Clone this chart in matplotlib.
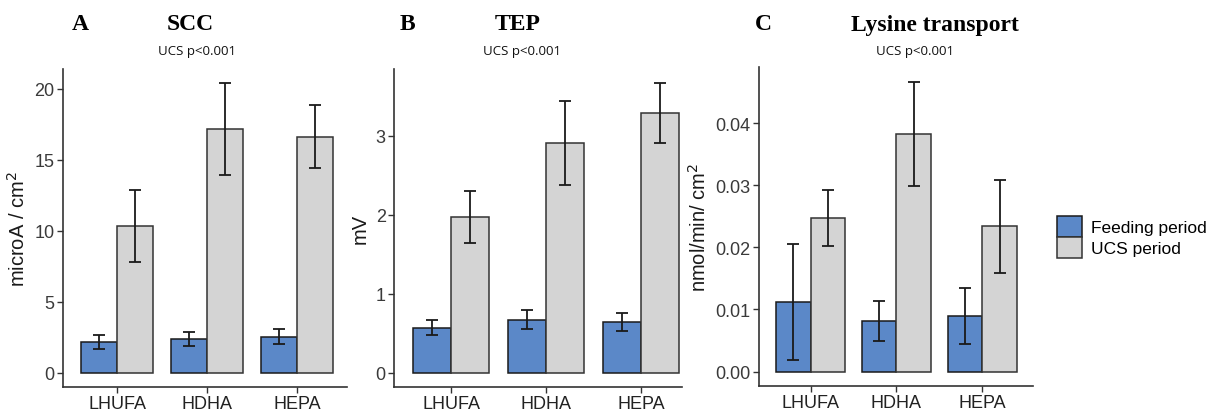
import matplotlib
matplotlib.use("Agg")
import matplotlib.pyplot as plt
import numpy as np

plt.rcParams["font.family"] = ["Liberation Sans", "DejaVu Sans"]

categories = ["LHUFA", "HDHA", "HEPA"]
series_names = ["Feeding period", "UCS period"]

scc_feed = [2.15, 2.36, 2.52]
scc_feed_err = [0.50, 0.50, 0.53]
scc_ucs = [10.33, 17.15, 16.63]
scc_ucs_err = [2.52, 3.22, 2.25]

tep_feed = [0.567, 0.671, 0.642]
tep_feed_err = [0.095, 0.12, 0.11]
tep_ucs = [1.973, 2.905, 3.28]
tep_ucs_err = [0.33, 0.53, 0.38]

lys_feed = [0.0112, 0.0081, 0.0089]
lys_feed_err = [0.0094, 0.0032, 0.0045]
lys_ucs = [0.0247, 0.0383, 0.0234]
lys_ucs_err = [0.0045, 0.0084, 0.0075]

panel_letters = ["A", "B", "C"]
panel_titles = ["SCC", "TEP", "Lysine transport"]
subtitle = "UCS p<0.001"
ylabels = ["microA / cm$^2$", "mV", "nmol/min/ cm$^2$"]
yticks = [[0, 5, 10, 15, 20], [0, 1, 2, 3], [0.00, 0.01, 0.02, 0.03, 0.04]]
ytick_labels = [["0", "5", "10", "15", "20"], ["0", "1", "2", "3"],
                ["0.00", "0.01", "0.02", "0.03", "0.04"]]

feed_color = "#5b88c8"
ucs_color = "#d4d4d4"
axis_color = "#333333"

W, H = 1210, 414
fig = plt.figure(figsize=(W / 100, H / 100), dpi=100)

def frac(left, right, top, bottom):
    return [left / W, 1 - bottom / H, (right - left) / W, (bottom - top) / H]

rects = [frac(63, 347, 70, 388), frac(394, 682, 70, 388), frac(759, 1033, 68, 387)]
xright = [3.55, 3.43, 3.59]

data = [
    (scc_feed, scc_feed_err, scc_ucs, scc_ucs_err),
    (tep_feed, tep_feed_err, tep_ucs, tep_ucs_err),
    (lys_feed, lys_feed_err, lys_ucs, lys_ucs_err),
]

x = np.arange(1, len(categories) + 1)
bw = 0.4
for i, (rect, (fv, fe, uv, ue)) in enumerate(zip(rects, data)):
    ax = fig.add_axes(rect)
    ax.bar(x - bw / 2, fv, width=bw, color=feed_color, edgecolor="#1a1a1a",
           linewidth=1.1, label=series_names[0], zorder=2)
    ax.bar(x + bw / 2, uv, width=bw, color=ucs_color, edgecolor="#333333",
           linewidth=1.1, label=series_names[1], zorder=2)
    ax.errorbar(x - bw / 2, fv, yerr=fe, fmt="none", ecolor="#1a1a1a",
                elinewidth=1.3, capsize=4.5, capthick=1.3, zorder=3)
    ax.errorbar(x + bw / 2, uv, yerr=ue, fmt="none", ecolor="#1a1a1a",
                elinewidth=1.3, capsize=4.5, capthick=1.3, zorder=3)
    top = max(np.array(uv) + np.array(ue))
    ax.set_ylim(-0.05 * top, 1.05 * top)
    ax.set_xlim(0.4, xright[i])
    ax.set_xticks(x)
    ax.set_xticklabels(categories, fontsize=13, color="#222222")
    ax.set_yticks(yticks[i])
    ax.set_yticklabels(ytick_labels[i], fontsize=13, color="#3a3a3a")
    ax.set_ylabel(ylabels[i], fontsize=14.5, color="#1a1a1a", labelpad=4)
    for s in ["top", "right"]:
        ax.spines[s].set_visible(False)
    for s in ["left", "bottom"]:
        ax.spines[s].set_color(axis_color)
        ax.spines[s].set_linewidth(1.2)
    ax.tick_params(axis="both", color=axis_color, length=4, width=1.0, pad=2)
    ax.set_facecolor("white")
    if i == 2:
        lax = ax

# Titles
letter_x = [80, 407, 763]
title_x = [190, 518, 935]
sub_x = [197, 522, 915]
for i in range(3):
    fig.text(letter_x[i] / W, 1 - 25 / H, panel_letters[i], fontsize=17,
             fontweight="bold", family="Liberation Serif", ha="center", va="center")
    fig.text(title_x[i] / W, 1 - 25 / H, panel_titles[i], fontsize=17,
             fontweight="bold", family="Liberation Serif", ha="center", va="center")
    fig.text(sub_x[i] / W, 1 - 52 / H, subtitle, fontsize=9.5,
             family="Open Sans", ha="center", va="center", color="#111111")

# Legend
handles, labels = lax.get_legend_handles_labels()
leg = fig.legend(handles[:2], labels[:2], loc="center left",
                 bbox_to_anchor=(1057 / W, 1 - 238 / H), frameon=False,
                 fontsize=12.5, handlelength=1.45, handleheight=1.45,
                 handletextpad=0.5, labelspacing=0.0, borderaxespad=0,
                 borderpad=0)

fig.savefig("out.png", dpi=100, facecolor="white")
